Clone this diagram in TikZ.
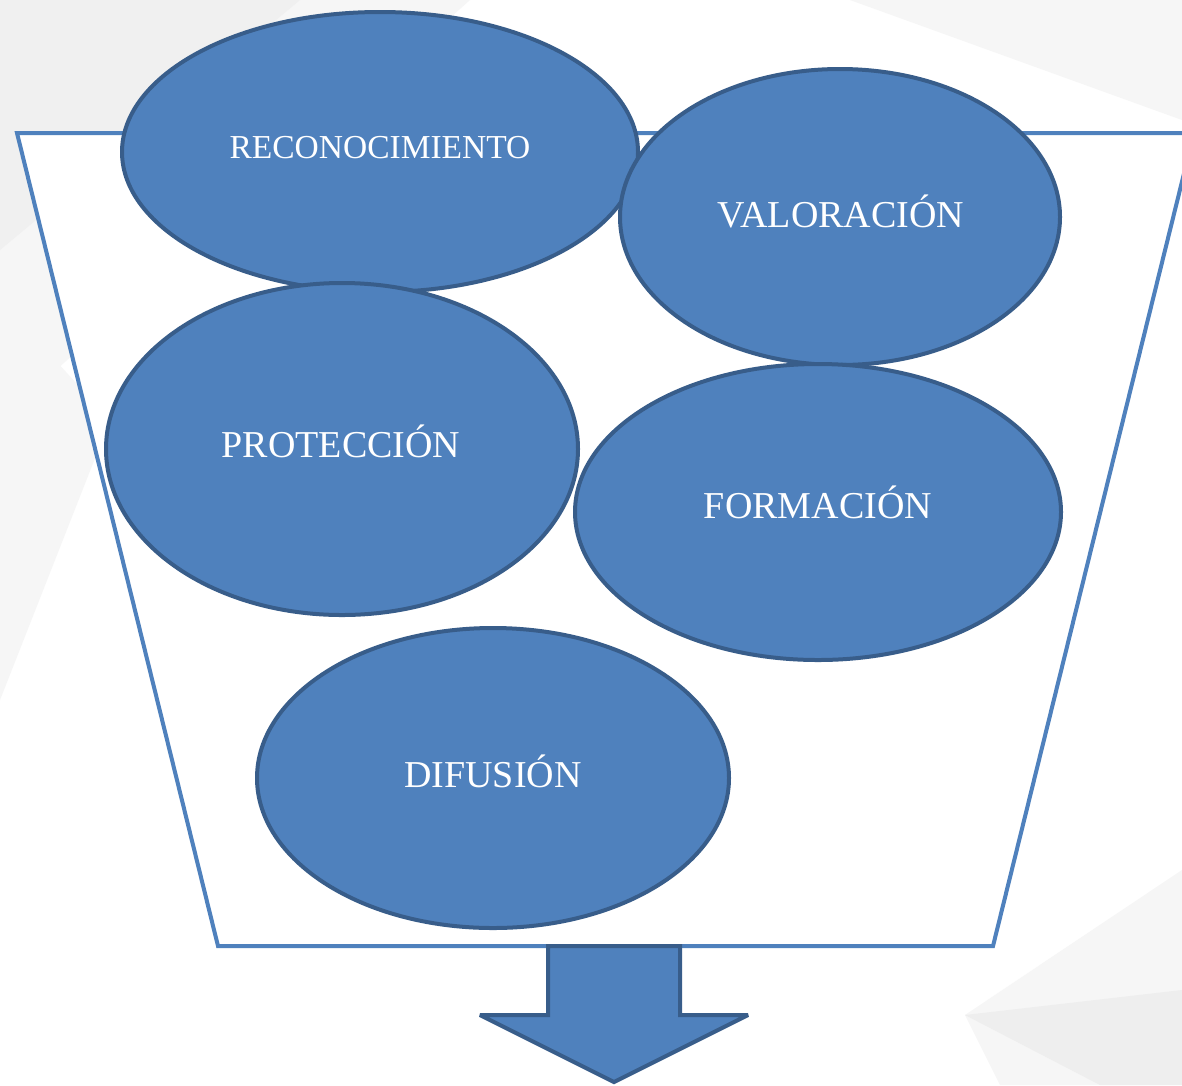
\documentclass[tikz,border=0pt]{standalone}
\usepackage{fontspec}
\setmainfont{Liberation Serif}
\usetikzlibrary{shapes.geometric}
\definecolor{fillblue}{HTML}{4F81BD}
\definecolor{edgeblue}{HTML}{385D8A}
\definecolor{bgA}{HTML}{F0F0F0}
\definecolor{bgB}{HTML}{F6F6F6}
\definecolor{bgC}{HTML}{EEEEEE}
\tikzset{
  bubble/.style={ellipse, draw=edgeblue, fill=fillblue, line width=4pt, inner sep=0pt},
  lbl/.style={anchor=base, text=white, inner sep=0pt, font=\fontsize{38}{40}\selectfont},
  funnelline/.style={draw=fillblue, fill=white, line width=4pt, line join=miter},
  arrowshape/.style={draw=edgeblue, fill=fillblue, line width=4pt, line join=miter, miter limit=3},
}
\begin{document}
\begin{tikzpicture}[x=1pt,y=-1pt]
\useasboundingbox (0,0) rectangle (1182,1085);
\clip (0,0) rectangle (1182,1085);
% background
\fill[white] (0,0) rectangle (1182,1085);
\fill[bgB] (0,0) -- (470,0) -- (0,420) -- cycle;
\fill[bgA] (0,0) -- (300,0) -- (0,250) -- cycle;
\fill[bgB] (0,300) -- (0,700) -- (110,420) -- cycle;
\fill[bgB] (850,0) -- (1182,0) -- (1182,120) -- cycle;
\fill[bgB] (965,1015) -- (1182,870) -- (1182,1085) -- (1000,1085) -- cycle;
\fill[bgC] (965,1015) -- (1182,990) -- (1182,1085) -- (1100,1085) -- cycle;
% funnel
\path[funnelline] (17,133) coordinate (f1) -- (1194,133) coordinate (f2) -- (993,946) coordinate (f3) -- (218,946) coordinate (f4) -- cycle;
% ellipses
\node[bubble, minimum width=516pt, minimum height=280pt] (reco) at (380,152) {};
\node[bubble, minimum width=440pt, minimum height=296pt] (valo) at (840,217) {};
\node[bubble, minimum width=472pt, minimum height=332pt] (prot) at (342,449) {};
\node[bubble, minimum width=486pt, minimum height=296pt] (form) at (818,512) {};
\node[bubble, minimum width=472pt, minimum height=300pt] (difu) at (493,778) {};
% labels
\node[lbl, font=\fontsize{33.5}{36}\selectfont] (treco) at (380,158) {RECONOCIMIENTO};
\node[lbl] (tvalo) at (841,227) {VALORACIÓN};
\node[lbl] (tprot) at (341,457) {PROTECCIÓN};
\node[lbl] (tform) at (818,518) {FORMACIÓN};
\node[lbl] (tdifu) at (493,787) {DIFUSIÓN};
% arrow
\path[arrowshape] (548,946) -- (680,946) -- (680,1015) -- (748,1015) -- (614,1082) coordinate (tip) -- (480,1015) -- (548,1015) -- cycle;
\end{tikzpicture}
\end{document}
